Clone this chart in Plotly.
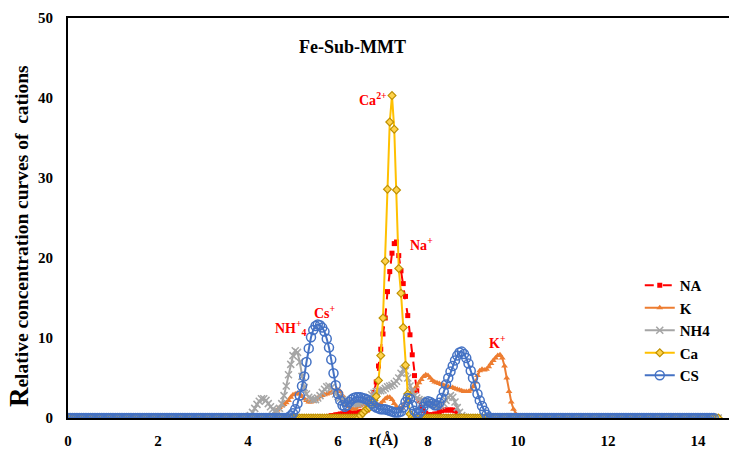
import numpy as np
import plotly.graph_objects as go

# radial grid (Å), sampled every 0.05 Å from 0 to 14.45
STEP = 0.05
r = np.round(np.arange(290) * STEP, 2)

# concentration profiles: first r value of the non-zero window + values in it
na_start = 5.75
na_vals = [0.1, 0.2, 0.3, 0.3, 0.4, 0.4, 0.5, 0.5, 0.6, 0.7, 0.7, 0.6, 0.6, 0.7, 0.7,
           0.8, 0.8, 0.9, 1.0, 1.3, 2.2, 3.2, 4.5, 6.5, 8.6, 10.5, 12.5, 15.8, 18.3,
           20.6, 21.8, 22.0, 20.3, 18.4, 16.8, 15.2, 12.8, 10.4, 7.9, 5.3, 3.4, 2.2,
           1.3, 0.9, 0.6, 0.4, 0.4, 0.4, 0.5, 0.5, 0.7, 0.9, 1.0, 1.0, 1.0, 1.0, 1.0,
           0.9, 0.6, 0.2]

k_start = 4.55
k_vals = [0.3, 0.6, 1.0, 1.3, 1.5, 1.7, 1.9, 2.2, 2.6, 2.9, 3.0, 3.1, 3.0, 2.7, 2.4,
          2.2, 2.0, 2.0, 2.1, 2.3, 2.5, 2.7, 2.8, 2.9, 3.0, 3.1, 3.2, 3.4, 3.5, 3.5,
          3.3, 2.8, 2.2, 1.7, 1.4, 1.2, 1.1, 1.2, 1.4, 1.5, 1.7, 1.9, 2.0, 2.1, 2.0,
          1.8, 1.6, 1.6, 1.8, 2.1, 2.4, 2.6, 2.6, 2.3, 1.8, 1.4, 1.2, 1.2, 1.5, 2.0,
          2.6, 3.0, 3.3, 3.6, 4.0, 4.4, 4.8, 5.2, 5.4, 5.3, 5.0, 4.7, 4.5, 4.4, 4.3,
          4.2, 4.1, 4.0, 3.9, 3.8, 3.8, 3.7, 3.6, 3.5, 3.4, 3.3, 3.3, 3.3, 3.5, 3.9,
          4.5, 5.3, 5.9, 6.1, 6.0, 6.1, 6.4, 6.8, 7.2, 7.5, 7.8, 7.9, 7.5, 6.5, 5.0,
          3.3, 2.0, 1.1, 0.5, 0.1]

nh4_start = 4.0
nh4_vals = [0.1, 0.3, 0.7, 1.2, 1.7, 2.1, 2.4, 2.4, 2.2, 1.8, 1.4, 1.1, 0.9, 0.9, 1.2,
            1.8, 2.8, 4.0, 5.4, 6.7, 7.8, 8.4, 8.2, 7.0, 5.2, 3.8, 3.0, 2.6, 2.4, 2.3,
            2.3, 2.5, 2.8, 3.2, 3.6, 3.9, 4.0, 3.8, 3.4, 3.0, 2.7, 2.5, 2.3, 2.2, 2.1,
            2.0, 1.9, 1.8, 1.8, 1.8, 1.9, 2.0, 2.1, 2.3, 2.6, 2.9, 3.1, 3.3, 3.4, 3.4,
            3.5, 3.7, 3.9, 4.0, 4.1, 4.3, 4.6, 5.0, 5.6, 6.1, 5.9, 5.0, 4.0, 3.3, 2.8,
            2.5, 2.3, 2.2, 2.1, 2.0, 1.9, 1.8, 1.7, 1.6, 1.5, 1.5, 1.6, 1.8, 2.2, 2.6,
            2.8, 2.6, 2.0, 1.3, 0.7, 0.3, 0.1]

ca_start = 6.5
ca_vals = [0.3, 0.6, 0.9, 1.2, 1.3, 1.6, 2.2, 2.7, 4.7, 7.8, 12.5, 19.6, 28.6, 37.0,
           40.3, 36.1, 28.5, 18.7, 15.6, 11.3, 6.6, 3.0, 0.5, 0.1]

cs_start = 4.9
cs_vals = [0.1, 0.3, 0.6, 1.1, 1.8, 2.8, 4.0, 5.2, 7.0, 8.7, 10.1, 11.0, 11.5, 11.7,
           11.6, 11.3, 10.8, 9.9, 8.8, 7.3, 5.6, 4.1, 3.0, 2.2, 1.6, 1.4, 1.6, 2.0,
           2.3, 2.5, 2.6, 2.6, 2.6, 2.5, 2.4, 2.3, 2.1, 1.8, 1.5, 1.3, 1.2, 1.1, 1.1,
           1.1, 1.0, 0.9, 0.8, 0.7, 0.7, 0.7, 0.8, 1.3, 2.0, 2.5, 2.4, 1.6, 0.9, 0.6,
           0.6, 0.9, 1.4, 1.9, 2.1, 2.0, 1.8, 1.6, 1.6, 1.9, 2.5, 3.3, 4.2, 5.0, 5.8,
           6.5, 7.2, 7.8, 8.2, 8.3, 8.0, 7.5, 6.8, 5.9, 5.0, 4.0, 3.0, 2.2, 1.5, 0.9,
           0.4, 0.1]
cs_end = 14.35


def profile(start, vals):
    """Full-grid profile: zero concentration outside the listed window."""
    y = np.zeros(len(r))
    i0 = int(round(start / STEP))
    y[i0:i0 + len(vals)] = vals
    return y


SERIF = "Liberation Serif, Times New Roman, serif"

fig = go.Figure()

fig.add_trace(go.Scatter(
    x=r, y=profile(na_start, na_vals), name="NA", mode="lines+markers",
    line=dict(color="#FF0000", width=2, dash="dash"),
    marker=dict(symbol="square", size=5, color="#FF0000")))

fig.add_trace(go.Scatter(
    x=r, y=profile(k_start, k_vals), name="K", mode="lines+markers",
    line=dict(color="#ED7D31", width=2),
    marker=dict(symbol="triangle-up", size=6, color="#ED7D31")))

fig.add_trace(go.Scatter(
    x=r, y=profile(nh4_start, nh4_vals), name="NH4", mode="lines+markers",
    line=dict(color="#A5A5A5", width=2),
    marker=dict(symbol="x-thin", size=7, color="#A5A5A5",
                line=dict(color="#A5A5A5", width=1.5))))

fig.add_trace(go.Scatter(
    x=r, y=profile(ca_start, ca_vals), name="Ca", mode="lines+markers",
    line=dict(color="#FFC000", width=2),
    marker=dict(symbol="diamond", size=6, color="#FFD34D",
                line=dict(color="#BF9000", width=1.2))))

cs_mask = r <= cs_end
fig.add_trace(go.Scatter(
    x=r[cs_mask], y=profile(cs_start, cs_vals)[cs_mask], name="CS", mode="lines+markers",
    line=dict(color="#4472C4", width=2),
    marker=dict(symbol="circle-open", size=9, color="#4472C4",
                line=dict(color="#4472C4", width=1.5))))

# ion labels next to their peaks
ion_labels = [
    (6.78, 39.9, "Ca<sup>2+</sup>"),
    (7.85, 21.8, "Na<sup>+</sup>"),
    (4.95, 11.2, "NH<sup>+</sup><sub>4</sub>"),
    (5.7, 13.2, "Cs<sup>+</sup>"),
    (9.55, 9.5, "K<sup>+</sup>"),
]
for lx, ly, lt in ion_labels:
    fig.add_annotation(x=lx, y=ly, text=lt, showarrow=False,
                       xanchor="center", yanchor="middle",
                       font=dict(family=SERIF, size=14, color="#FF0000", weight="bold"))

fig.add_annotation(xref="paper", yref="paper", x=0.431, y=0.9275, text="Fe-Sub-MMT",
                   showarrow=False, xanchor="center", yanchor="middle",
                   font=dict(family=SERIF, size=18, color="black", weight="bold"))

fig.add_annotation(x=7.0, xref="x", yref="paper", y=-0.055, text="r(Å)", showarrow=False,
                   xanchor="center", yanchor="middle",
                   font=dict(family=SERIF, size=16, color="black", weight="bold"))

fig.add_annotation(xref="paper", yref="paper", x=-0.074, y=0.455, textangle=-90,
                   xanchor="center", yanchor="middle",
                   text='<span style="font-size:27px">R</span>elative concentration curves of  cations',
                   showarrow=False,
                   font=dict(family=SERIF, size=19.5, color="black", weight="bold"))

fig.update_layout(
    width=729, height=452,
    margin=dict(l=68, r=0, t=18, b=34),
    paper_bgcolor="white", plot_bgcolor="white",
    showlegend=True,
    legend=dict(x=0.865, y=0.3725, xanchor="left", yanchor="top",
                bgcolor="rgba(0,0,0,0)", tracegroupgap=0,
                font=dict(family=SERIF, size=15, color="black", weight="bold")),
    xaxis=dict(range=[0, 661 / 45], tickvals=[0, 2, 4, 6, 8, 10, 12, 14],
               showgrid=False, zeroline=False, showline=True, linecolor="black",
               linewidth=2, mirror=True, ticks="inside", ticklen=4, tickwidth=1.5,
               tickcolor="black", layer="below traces", ticklabelstandoff=8,
               tickfont=dict(family=SERIF, size=15, color="black", weight="bold")),
    yaxis=dict(range=[0, 50], tickvals=[0, 10, 20, 30, 40, 50],
               showgrid=False, zeroline=False, showline=True, linecolor="black",
               linewidth=2, ticks="", layer="below traces", ticklabelstandoff=10,
               tickfont=dict(family=SERIF, size=15, color="black", weight="bold")),
)

fig.write_html("out.html")
